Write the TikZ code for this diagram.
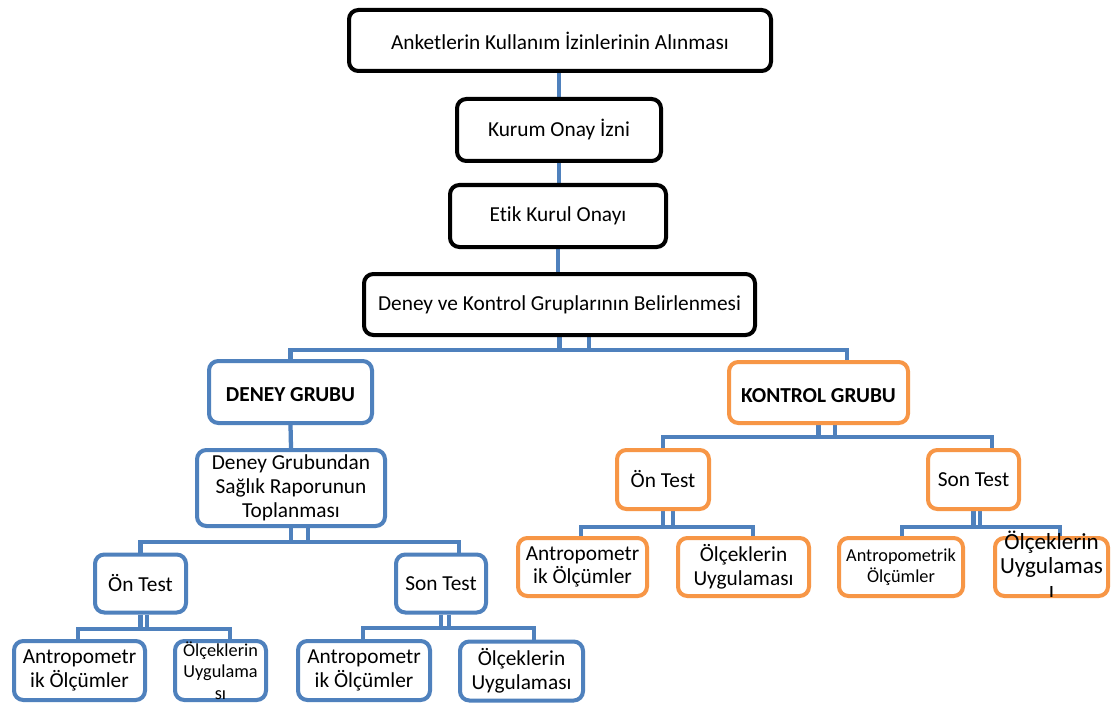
\documentclass[tikz,border=0pt]{standalone}
\usepackage{fontspec}
\setmainfont{Carlito}[Ligatures=NoCommon]
\usetikzlibrary{backgrounds}
\definecolor{cblue}{HTML}{4F81BD}
\definecolor{corange}{HTML}{F79646}
\begin{document}
\begin{tikzpicture}[x=0.75pt,y=-0.75pt,
  box/.style={draw, line width=3pt, rounded corners=7pt, fill=white, inner sep=0pt,
    align=center, font=\fontsize{16}{17.8}\selectfont},
  kbox/.style={box, draw=black},
  bbox/.style={box, draw=cblue},
  obox/.style={box, draw=corange},
  boldtxt/.style={font=\fontsize{16}{18}\selectfont\bfseries, text height=15pt},
  smalltxt/.style={font=\fontsize{13.7}{16}\selectfont},
  sz/.style 2 args={minimum width=#1*0.75pt, minimum height=#2*0.75pt},
  conn/.style={draw=cblue, line width=3.2pt, line join=miter}]
\useasboundingbox (0,0) rectangle (1113,706);

% black chain
\node[kbox, sz={422}{61}] (A) at (560,40.5) {Anketlerin Kullanım İzinlerinin Alınması};
\node[kbox, sz={204}{62}] (K) at (559,130) {Kurum Onay İzni};
\node[kbox, sz={216}{62}] (E) at (558,216) {Etik Kurul Onayı};
\node[kbox, sz={391}{61}] (D) at (559.5,304.5) {Deney ve Kontrol Gruplarının Belirlenmesi};

% groups
\node[bbox, boldtxt, sz={163}{62}] (DG) at (290.5,392) {DENEY GRUBU};
\node[obox, boldtxt, sz={179}{61}] (KG) at (818.5,392.5) {KONTROL GRUBU};

% deney side
\node[bbox, sz={188}{76}] (DGS) at (291,488) {Deney Grubundan\\Sağlık Raporunun\\Toplanması};
\node[bbox, sz={91}{58}] (bOn) at (140.5,583.5) {Ön Test};
\node[bbox, sz={90}{58}] (bSon) at (441,583.5) {Son Test};
\node[bbox, sz={131}{59}] (bA1) at (79.5,670.5) {Antropometr\\ik Ölçümler};
\node[bbox, smalltxt, sz={91}{59}] (bO1) at (220.5,670.5) {Ölçeklerin\\Uygulama\\sı};
\node[bbox, sz={132}{59}] (bA2) at (364,670.5) {Antropometr\\ik Ölçümler};
\node[bbox, sz={123}{59}] (bO2) at (521.5,671) {Ölçeklerin\\Uygulaması};

% kontrol side
\node[obox, sz={92}{59}] (oOn) at (663,479.5) {Ön Test};
\node[obox, sz={91}{59}] (oSon) at (973.5,479.5) {Son Test};
\node[obox, sz={129}{58}] (oA1) at (582.5,567) {Antropometr\\ik Ölçümler};
\node[obox, sz={131}{58}] (oO1) at (743.5,567) {Ölçeklerin\\Uygulaması};
\node[obox, smalltxt, sz={124}{58}] (oA2) at (901,567) {Antropometrik\\Ölçümler};
\node[obox, sz={113}{58}] (oO2) at (1051.5,567)
  {\raisebox{-5pt}[0pt][0pt]{\fontsize{17.3}{18}\selectfont\begin{tabular}{@{}c@{}}Ölçeklerin\\Uygulamas\\ı\end{tabular}}};

% bus coordinates
\coordinate (d2) at (589,350);
\coordinate (dL) at (291,350);
\coordinate (dR) at (847,350);
\coordinate (k2) at (835,437);
\coordinate (kL) at (663,437);
\coordinate (kR) at (992,437);
\coordinate (g2) at (308,542);
\coordinate (gR) at (459,542);
\coordinate (n2) at (147,629);
\coordinate (nL) at (78,629);
\coordinate (nR) at (230,629);
\coordinate (s2) at (449,628);
\coordinate (sL) at (363,628);
\coordinate (sR) at (534,628);
\coordinate (o2) at (673,527);
\coordinate (oL) at (581,527);
\coordinate (oR) at (753,527);
\coordinate (p2) at (980,527);
\coordinate (pL) at (902,527);
\coordinate (pR) at (1060,527);

\begin{scope}[on background layer]
\fill[white] (0,0) rectangle (1113,706);
\draw[conn] (K.north |- A.south) -- (K.north);
\draw[conn] (K.south) -- (K.south |- E.north);
\draw[conn] (E.south) -- (E.south |- D.north);
% D bus
\draw[conn] (D.south) -- (D.south |- dL);
\draw[conn] (d2 |- D.south) -- (d2);
\draw[conn] (DG.north) -- (DG.north |- dL) -- (dR) -- (dR |- KG.north);
% DG
\draw[conn] (DG.south) -- (DGS.north);
% KG bus
\draw[conn] (KG.south) -- (KG.south |- kL);
\draw[conn] (k2 |- KG.south) -- (k2);
\draw[conn] (oOn.north) -- (oOn.north |- kL) -- (kR) -- (kR |- oSon.north);
% DGS bus
\draw[conn] (DGS.south) -- (DGS.south |- gR);
\draw[conn] (g2 |- DGS.south) -- (g2);
\draw[conn] (bOn.north) -- (bOn.north |- gR) -- (gR) -- (gR |- bSon.north);
% bOn bus
\draw[conn] (bOn.south) -- (bOn.south |- nL);
\draw[conn] (n2 |- bOn.south) -- (n2);
\draw[conn] (nL |- bA1.north) -- (nL) -- (nR) -- (nR |- bO1.north);
% bSon bus
\draw[conn] (bSon.south) -- (bSon.south |- sL);
\draw[conn] (s2 |- bSon.south) -- (s2);
\draw[conn] (sL |- bA2.north) -- (sL) -- (sR) -- (sR |- bO2.north);
% oOn bus
\draw[conn] (oOn.south) -- (oOn.south |- oL);
\draw[conn] (o2 |- oOn.south) -- (o2);
\draw[conn] (oL |- oA1.north) -- (oL) -- (oR) -- (oR |- oO1.north);
% oSon bus
\draw[conn] (oSon.south) -- (oSon.south |- pL);
\draw[conn] (p2 |- oSon.south) -- (p2);
\draw[conn] (pL |- oA2.north) -- (pL) -- (pR) -- (pR |- oO2.north);
\end{scope}
\end{tikzpicture}
\end{document}
